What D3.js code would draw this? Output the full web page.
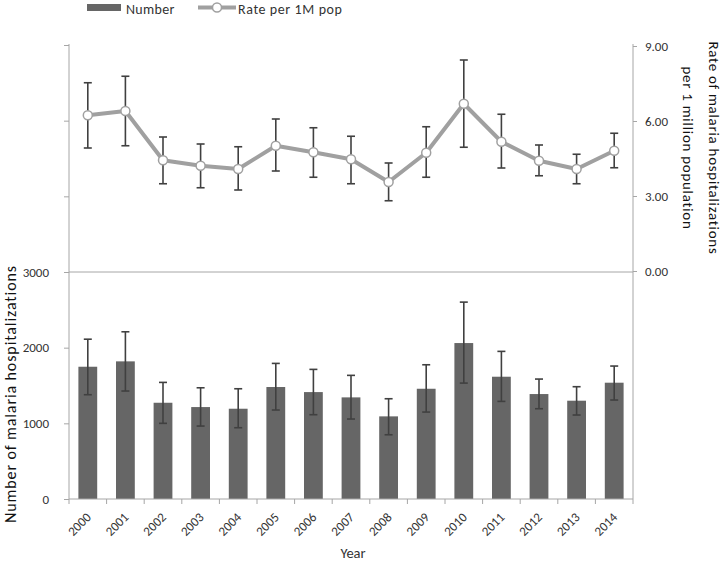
<!DOCTYPE html>
<html><head><meta charset="utf-8">
<script src="https://cdn.jsdelivr.net/npm/d3@7"></script>
<style>
html,body{margin:0;padding:0;background:#fff;}
svg{display:block;font-family:Carlito,Lato,sans-serif;}
</style></head>
<body><svg id="c" width="725" height="564"></svg>
<script>
const years = ["2000","2001","2002","2003","2004","2005","2006","2007","2008","2009","2010","2011","2012","2013","2014"];
const numbers = [1748,1819,1272,1215,1193,1480,1413,1343,1092,1457,2061,1616,1387,1299,1537];
const numLow  = [1378,1427,1000,964,942,1176,1114,1057,849,1149,1532,1290,1193,1110,1308];
const numHigh = [2112,2210,1541,1470,1457,1792,1713,1634,1325,1774,2602,1951,1585,1484,1757];
const rates    = [6.23,6.40,4.43,4.21,4.08,5.01,4.75,4.47,3.56,4.73,6.69,5.17,4.41,4.08,4.81];
const rateLow  = [4.92,5.01,3.49,3.33,3.24,4.00,3.75,3.49,2.81,3.75,4.95,4.12,3.81,3.49,4.13];
const rateHigh = [7.53,7.79,5.36,5.08,4.97,6.08,5.73,5.39,4.32,5.77,8.44,6.27,5.04,4.67,5.51];
const leftTicks = [0,1000,2000,3000,4000,5000,6000];
const leftLabelled = [0,1000,2000,3000];
const rightTicks = [0,3,6,9];

const svg = d3.select("#c");
const L = 69, R = 633, B = 499, T = 45;
const axisCol = "#a6a6a6", textCol = "#333";

const x = d3.scaleBand().domain(years).range([L, R]).paddingInner(0.5).paddingOuter(0.25);
const xb = d3.scaleBand().domain(years).range([L, R]);
const yL = d3.scaleLinear().domain([0, 6000]).range([B, T]);
const yR = d3.scaleLinear().domain([0, 9]).range([yL(3000) - 1, T + 1]);
const cx = d => xb(d) + xb.bandwidth() / 2;

// gridline at 3000 / 0.00
svg.append("line").attr("x1", L).attr("x2", R).attr("y1", yL(3000)).attr("y2", yL(3000))
  .attr("stroke", axisCol).attr("stroke-width", 1);

// bars
svg.append("g").selectAll("rect").data(years).join("rect")
  .attr("x", d => x(d)).attr("width", x.bandwidth())
  .attr("y", (d, i) => yL(numbers[i])).attr("height", (d, i) => B - yL(numbers[i]))
  .attr("fill", "#666666");

function errorBars(g, ys, lo, hi) {
  const cap = 4;
  const eg = g.selectAll("g").data(years).join("g");
  eg.append("line").attr("x1", cx).attr("x2", cx)
    .attr("y1", (d, i) => ys(lo[i])).attr("y2", (d, i) => ys(hi[i]));
  eg.append("line").attr("x1", d => cx(d) - cap).attr("x2", d => cx(d) + cap)
    .attr("y1", (d, i) => ys(lo[i])).attr("y2", (d, i) => ys(lo[i]));
  eg.append("line").attr("x1", d => cx(d) - cap).attr("x2", d => cx(d) + cap)
    .attr("y1", (d, i) => ys(hi[i])).attr("y2", (d, i) => ys(hi[i]));
  g.selectAll("line").attr("stroke", "#404040").attr("stroke-width", 1.6);
}
errorBars(svg.append("g"), yL, numLow, numHigh);
errorBars(svg.append("g"), yR, rateLow, rateHigh);

// rate line
const line = d3.line().x(d => cx(d.y)).y(d => yR(d.v));
const pts = years.map((y, i) => ({ y: y, v: rates[i] }));
svg.append("path").datum(pts).attr("d", line).attr("fill", "none")
  .attr("stroke", "#a0a0a0").attr("stroke-width", 4).attr("stroke-linejoin", "round");
svg.append("g").selectAll("circle").data(pts).join("circle")
  .attr("cx", d => cx(d.y)).attr("cy", d => yR(d.v)).attr("r", 4.5)
  .attr("fill", "#fff").attr("stroke", "#a0a0a0").attr("stroke-width", 1.5);

// left axis
const gl = svg.append("g").attr("transform", `translate(${L},0)`)
  .call(d3.axisLeft(yL).tickValues(leftTicks).tickSize(5).tickPadding(15)
    .tickFormat(d => leftLabelled.includes(d) ? d : ""));
gl.select(".domain").attr("stroke", axisCol).attr("d", `M0,${T - 1}V${B}`);
gl.selectAll(".tick line").attr("stroke", axisCol);
gl.selectAll("text").attr("fill", textCol).style("font-size", "13px").style("font-family", "Carlito,Lato,sans-serif");

// right axis
const gr = svg.append("g").attr("transform", `translate(${R},0)`)
  .call(d3.axisRight(yR).tickValues(rightTicks).tickSize(4).tickPadding(8).tickFormat(d3.format(".2f")));
gr.select(".domain").attr("stroke", axisCol).attr("d", `M0,${T - 1}V${B}`);
gr.selectAll(".tick line").attr("stroke", axisCol);
gr.selectAll("text").attr("fill", textCol).style("font-size", "13px").style("font-family", "Carlito,Lato,sans-serif");

// x axis
const gx = svg.append("g").attr("transform", `translate(0,${B})`);
gx.append("line").attr("x1", L).attr("x2", R).attr("stroke", axisCol);
gx.selectAll(".tk").data(years.concat(["end"])).join("line").attr("class", "tk")
  .attr("x1", (d, i) => i < years.length ? xb(d) : R).attr("x2", (d, i) => i < years.length ? xb(d) : R)
  .attr("y1", 0).attr("y2", 5).attr("stroke", axisCol);
const defs = svg.append("defs");
defs.selectAll("path").data(years).join("path")
  .attr("id", (d, i) => "xlp" + i)
  .attr("d", d => { const ax = cx(d) + 4, ay = B + 19; return `M${ax - 50},${ay + 50}L${ax},${ay}`; });
svg.append("g").selectAll("text").data(years).join("text")
  .attr("fill", textCol).style("font-size", "13px").attr("text-anchor", "end")
  .append("textPath").attr("href", (d, i) => "#xlp" + i).attr("startOffset", "100%")
  .text(d => d);

svg.append("text").attr("x", (L + R) / 2 + 2).attr("y", 558).attr("text-anchor", "middle")
  .attr("fill", textCol).style("font-size", "14.5px").text("Year");

// axis titles
svg.append("g").attr("transform", "translate(16,394)").append("text")
  .attr("transform", "rotate(-90)")
  .attr("text-anchor", "middle").attr("fill", "#111").style("font-size", "16px").style("letter-spacing", "0.9px")
  .text("Number of malaria hospitalizations");
const rt = svg.append("g").attr("transform", "translate(709,148)").append("text")
  .attr("transform", "rotate(90)")
  .attr("text-anchor", "middle").attr("fill", "#111").style("font-size", "15px").style("letter-spacing", "0.7px");
rt.append("tspan").attr("x", 0).attr("dy", 0).text("Rate of malaria hospitalizations");
rt.append("tspan").attr("x", 0).attr("dy", 26).text("per 1 million population");

// legend
const lg = svg.append("g");
lg.append("rect").attr("x", 87).attr("y", 4).attr("width", 34).attr("height", 7).attr("fill", "#666666");
lg.append("text").attr("x", 126).attr("y", 14).attr("fill", textCol).style("font-size", "14px").style("letter-spacing", "0.3px").text("Number");
lg.append("line").attr("x1", 198).attr("x2", 236).attr("y1", 7.5).attr("y2", 7.5)
  .attr("stroke", "#a0a0a0").attr("stroke-width", 4);
lg.append("circle").attr("cx", 217).attr("cy", 7.5).attr("r", 4.5)
  .attr("fill", "#fff").attr("stroke", "#a0a0a0").attr("stroke-width", 1.5);
lg.append("text").attr("x", 238).attr("y", 14).attr("fill", textCol).style("font-size", "14px").style("letter-spacing", "0.6px").text("Rate per 1M pop");
</script></body></html>
